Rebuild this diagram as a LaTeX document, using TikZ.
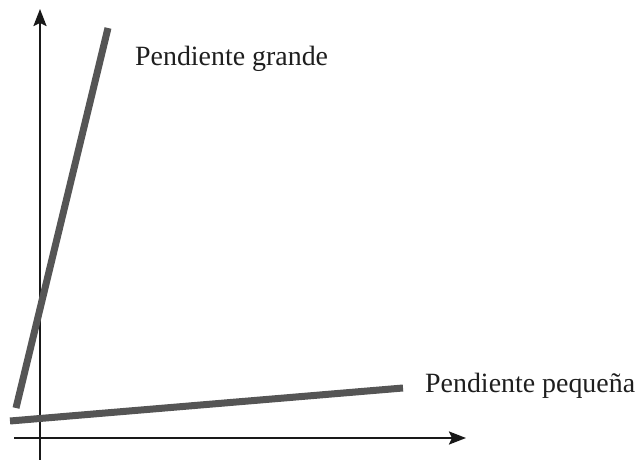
\documentclass[tikz,border=0pt]{standalone}
\usepackage{fontspec}
\setmainfont{Liberation Serif}
\usetikzlibrary{arrows.meta}
\definecolor{axis_black}{RGB}{25,25,25}
\definecolor{line_gray}{RGB}{85,85,85}
\definecolor{text_black}{RGB}{30,30,30}

\begin{document}
\begin{tikzpicture}[x=1bp,y=-1bp,>={Stealth[length=17bp,width=13bp,inset=3bp]}]
    \tikzstyle{axis}=[->,draw=axis_black,fill=axis_black,line width=2.2bp]
    \tikzstyle{slope}=[draw=line_gray,line width=7bp]
    \tikzstyle{label}=[text=text_black,font=\fontsize{28}{30}\selectfont,inner sep=0pt,anchor=base west]
    \useasboundingbox (0,0) rectangle (640,460);

    \coordinate (XL) at (14,438);
    \coordinate (XR) at (466,438);
    \coordinate (YB) at (40,460);
    \coordinate (YT) at (40,9);

    \coordinate (GB) at (16,408);
    \coordinate (GT) at (108,28);
    \coordinate (PL) at (10,421);
    \coordinate (PR) at (403,388);

    \node[label] (G) at (135,66)  {Pendiente grande};
    \node[label] (P) at (425,392) {Pendiente pequeña};

    \draw[axis] (XL) -- (XR);
    \draw[axis] (YB) -- (YT);
    \draw[slope] (GB) -- (GT);
    \draw[slope] (PL) -- (PR);
\end{tikzpicture}
\end{document}
